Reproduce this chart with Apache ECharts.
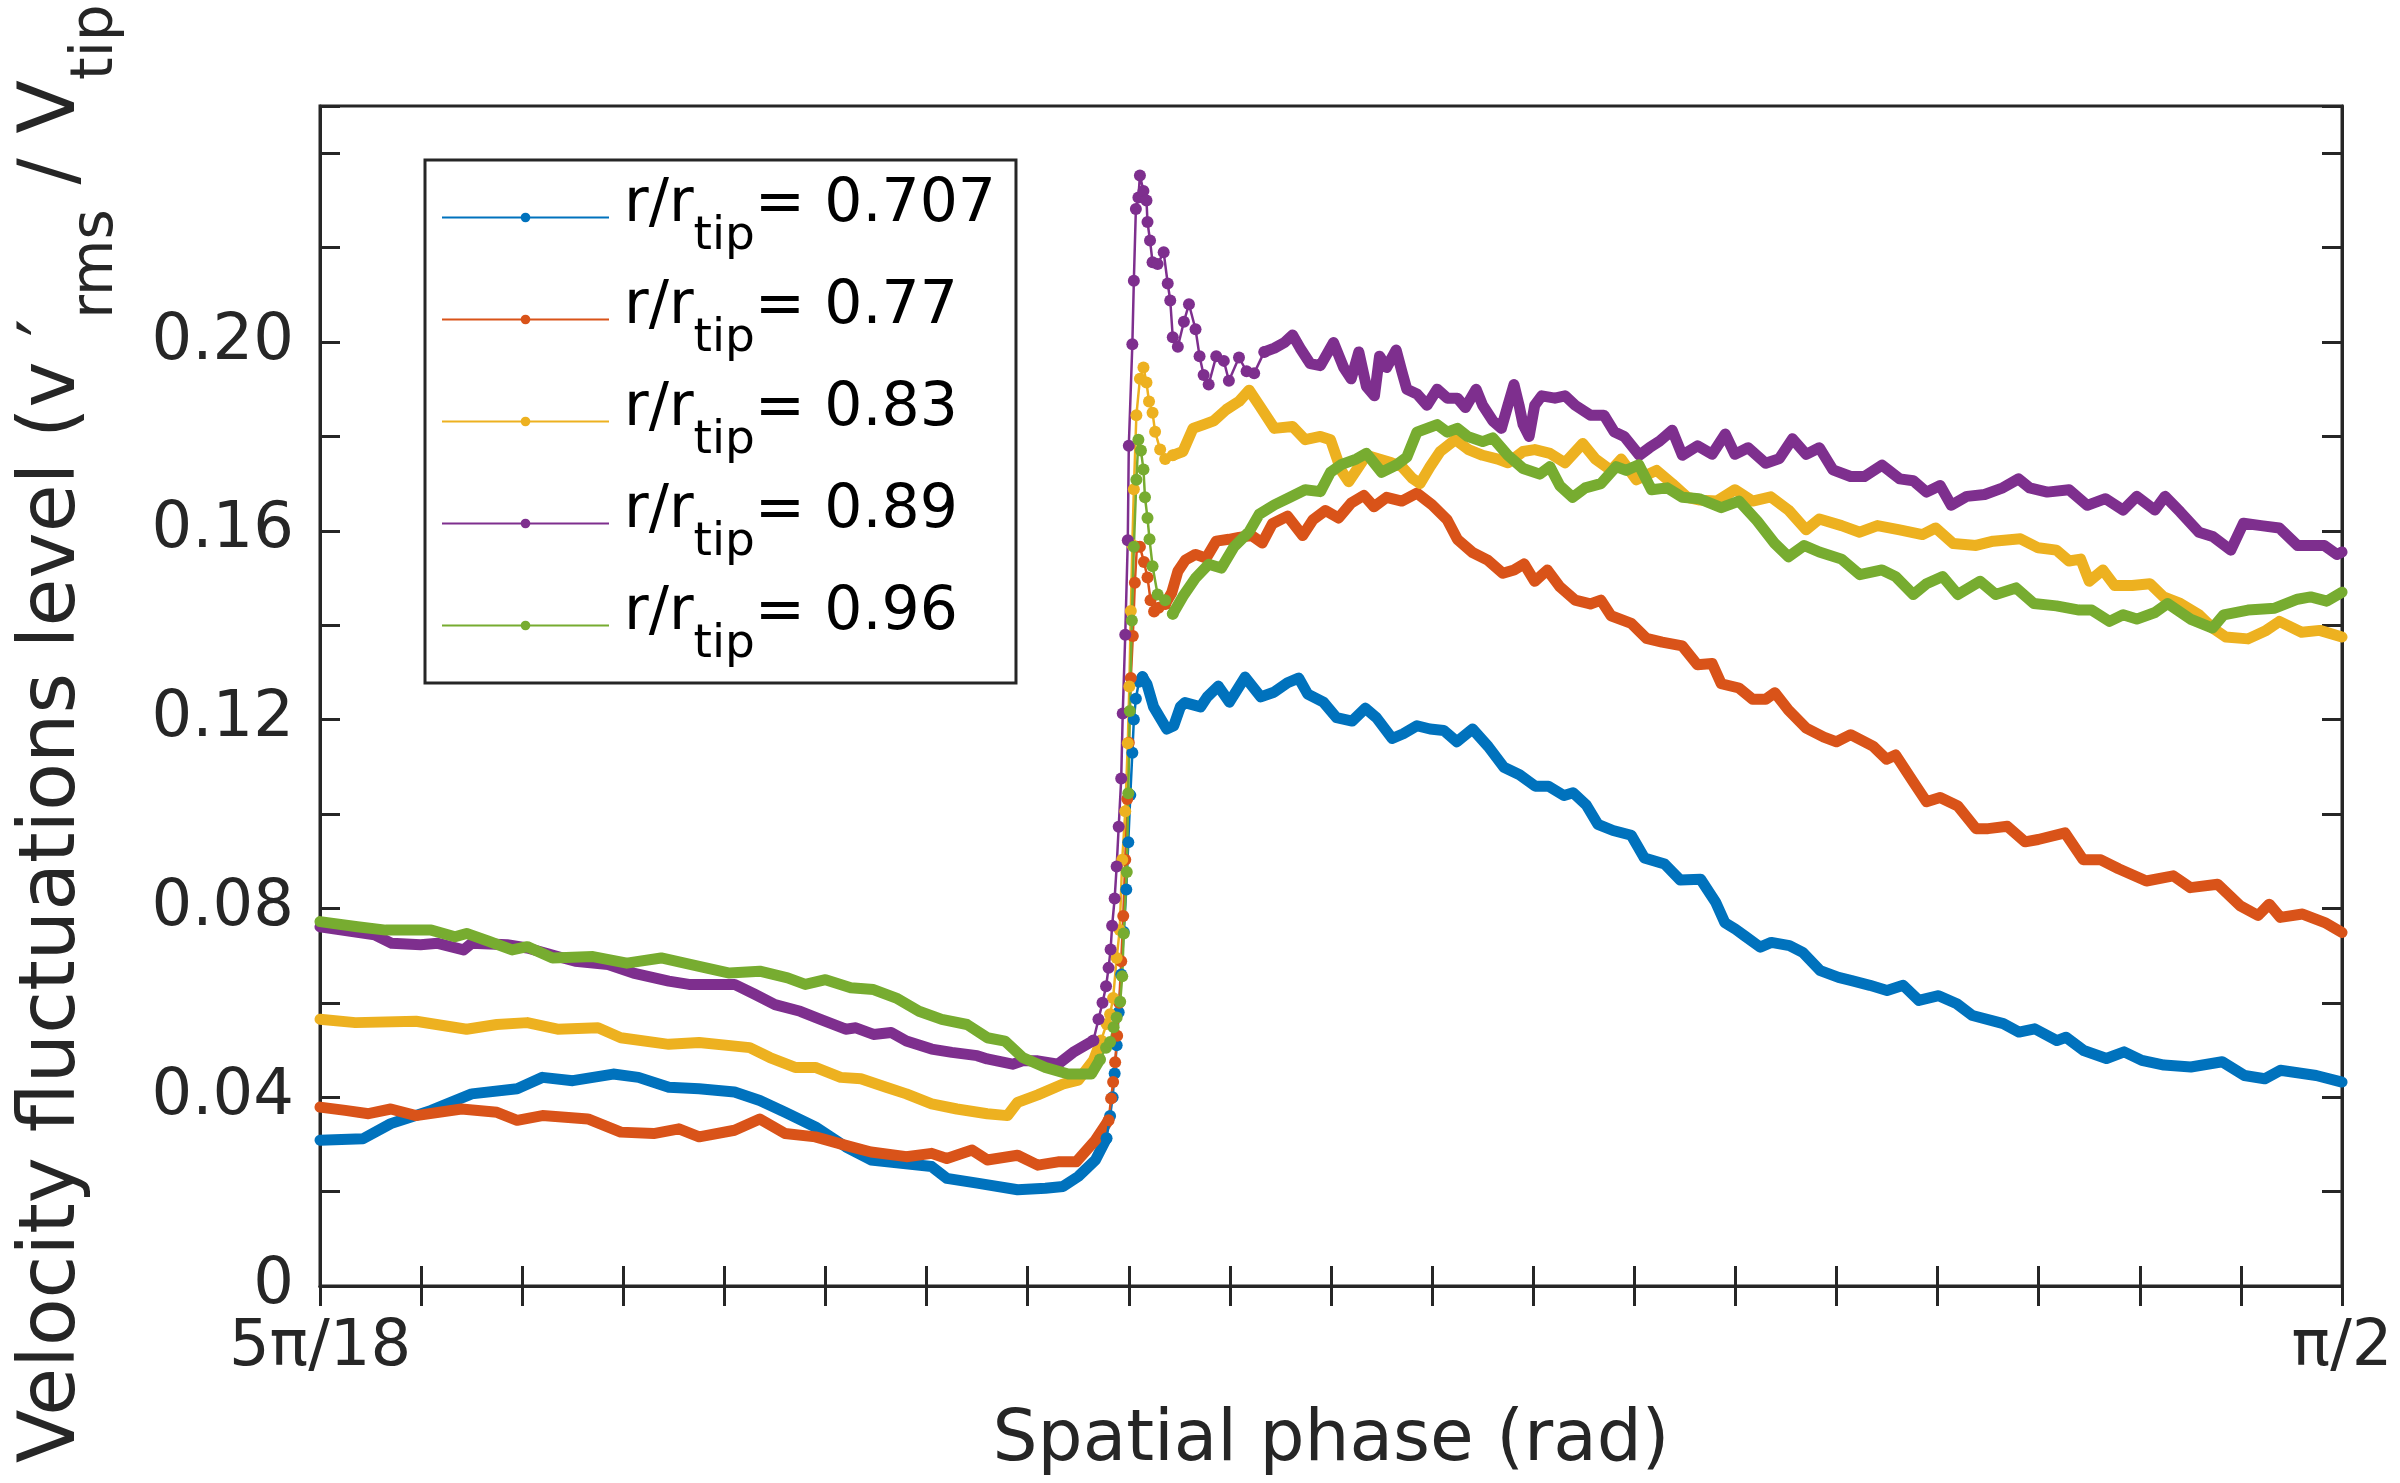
<!DOCTYPE html>
<html>
<head>
<meta charset="utf-8">
<script src="https://cdn.jsdelivr.net/npm/echarts@6/dist/echarts.min.js"></script>
<style>
  html, body { margin: 0; padding: 0; background: #fff; }
  #chart { width: 2400px; height: 1483px; }
</style>
</head>
<body>
<div id="chart"></div>
<script>
// spatial phase in degrees (50 = 5pi/18, 90 = pi/2), value = v'rms / Vtip
var r0707 = [[50.0,0.0309],[50.85,0.0312],[51.4,0.0344],[52.2,0.0372],[53.0,0.0407],[53.9,0.0418],[54.4,0.0442],[55.0,0.0435],[55.8,0.0449],[56.3,0.0442],[56.9,0.0421],[57.5,0.0418],[58.2,0.0411],[58.7,0.0393],[59.2,0.0368],[59.8,0.0337],[60.4,0.0295],[60.9,0.0267],[61.5,0.026],[62.1,0.0253],[62.4,0.0228],[63.0,0.0218],[63.8,0.0204],[64.35,0.0207],[64.7,0.0211],[65.0,0.0232],[65.34,0.0267],[65.56,0.0313],
  [65.63,0.036],[65.68,0.04],[65.72,0.045],[65.76,0.051],[65.8,0.058],[65.85,0.066],[65.9,0.075],[65.95,0.084],[65.99,0.094],[66.03,0.104],[66.07,0.113],[66.1,0.12],[66.14,0.1244],[66.2,0.128],[66.27,0.129],
  [66.36,0.1275],[66.49,0.1227],[66.75,0.118],[66.89,0.1187],[67.02,0.1227],[67.11,0.1236],[67.42,0.1227],[67.55,0.1248],[67.77,0.1271],[67.99,0.1237],[68.3,0.129],[68.61,0.1248],[68.87,0.1258],[69.14,0.1278],[69.36,0.1288],[69.54,0.1254],[69.85,0.1237],[70.11,0.1204],[70.42,0.1197],[70.68,0.1224],[70.9,0.1204],[71.21,0.116],[71.43,0.117],[71.7,0.1187],[71.96,0.118],[72.23,0.1177],[72.49,0.1153],[72.8,0.118],[73.11,0.1143],[73.42,0.1099],[73.73,0.1083],[74.04,0.1059],[74.3,0.1059],[74.61,0.1039],[74.79,0.1045],[75.05,0.1019],[75.28,0.0978],[75.58,0.0965],[75.94,0.0955],[76.2,0.0907],[76.6,0.0894],[76.91,0.086],[77.31,0.0862],[77.61,0.0813],[77.79,0.077],[78.0,0.0756],[78.18,0.0742],[78.49,0.0718],[78.71,0.0728],[79.07,0.0721],[79.33,0.0707],[79.68,0.0668],[80.04,0.0654],[80.3,0.0647],[80.66,0.0637],[81.0,0.0626],[81.32,0.0637],[81.63,0.0605],[82.02,0.0615],[82.38,0.0598],[82.69,0.0573],[83.3,0.0556],[83.61,0.0538],[83.92,0.0545],[84.36,0.052],[84.54,0.0527],[84.89,0.0499],[85.34,0.0482],[85.69,0.0496],[86.04,0.0478],[86.48,0.0468],[87.01,0.0464],[87.63,0.0475],[88.07,0.0446],[88.47,0.0439],[88.78,0.0457],[89.49,0.0446],[90.0,0.0432]];

var r077 = [[50.0,0.0379],[50.5,0.0372],[50.96,0.0365],[51.4,0.0375],[51.9,0.0361],[52.8,0.0375],[53.5,0.0368],[53.9,0.0351],[54.4,0.0361],[55.3,0.0354],[55.95,0.0326],[56.6,0.0323],[57.1,0.0333],[57.5,0.0316],[58.2,0.033],[58.7,0.0354],[59.2,0.0323],[59.8,0.0316],[60.4,0.0298],[60.9,0.0284],[61.6,0.0274],[62.1,0.0281],[62.4,0.027],[62.9,0.0288],[63.2,0.0267],[63.8,0.0277],[64.2,0.0256],[64.6,0.0263],[64.96,0.0263],[65.34,0.0309],[65.6,0.0351],
  [65.65,0.0397],[65.69,0.0432],[65.73,0.0474],[65.77,0.053],[65.81,0.06],[65.85,0.0688],[65.89,0.0784],[65.93,0.0903],[65.97,0.1032],[66.0,0.1151],[66.04,0.1288],[66.08,0.1377],[66.12,0.149],[66.16,0.1566],[66.22,0.1566],[66.3,0.1534],[66.37,0.1501],[66.43,0.1453],[66.5,0.1429],[66.59,0.1437],[66.72,0.1445],
  [66.85,0.1469],[66.97,0.1514],[67.12,0.1538],[67.32,0.155],[67.53,0.1542],[67.73,0.1578],[67.98,0.1582],[68.18,0.1586],[68.43,0.159],[68.64,0.1574],[68.84,0.1615],[69.14,0.1631],[69.44,0.159],[69.64,0.1623],[69.89,0.1643],[70.15,0.1627],[70.4,0.1659],[70.65,0.1675],[70.85,0.1651],[71.1,0.1671],[71.4,0.1663],[71.7,0.168],[72.0,0.1655],[72.3,0.1623],[72.5,0.1582],[72.8,0.1554],[73.1,0.1538],[73.4,0.151],[73.62,0.1517],[73.82,0.153],[74.03,0.1493],[74.28,0.1517],[74.53,0.1481],[74.83,0.1453],[75.13,0.1445],[75.34,0.1453],[75.54,0.142],[75.94,0.1404],[76.24,0.1372],[76.55,0.1364],[76.95,0.1356],[77.25,0.1316],[77.54,0.1319],[77.72,0.1276],[78.07,0.1267],[78.34,0.1243],[78.6,0.1243],[78.78,0.1257],[79.05,0.122],[79.4,0.1182],[79.75,0.1163],[80.0,0.1153],[80.28,0.1168],[80.72,0.1144],[80.99,0.1116],[81.17,0.1125],[81.52,0.1068],[81.78,0.1026],[82.05,0.1035],[82.4,0.1017],[82.76,0.0969],[83.0,0.0969],[83.38,0.0974],[83.73,0.0941],[83.99,0.0946],[84.52,0.096],[84.88,0.0903],[85.23,0.0903],[85.58,0.0884],[86.13,0.0858],[86.66,0.0869],[87.0,0.0844],[87.54,0.0851],[87.98,0.0806],[88.34,0.0785],[88.56,0.0809],[88.78,0.0781],[89.22,0.0788],[89.66,0.077],[90.0,0.0749]];

var r083 = [[50.0,0.0565],[50.7,0.0558],[51.9,0.0561],[52.9,0.0544],[53.5,0.0554],[54.1,0.0558],[54.7,0.0544],[55.5,0.0547],[55.95,0.0526],[56.9,0.0512],[57.5,0.0516],[58.5,0.0505],[58.9,0.0484],[59.4,0.0463],[59.8,0.0463],[60.3,0.0442],[60.7,0.0439],[61.2,0.0421],[61.6,0.0407],[62.1,0.0386],[62.6,0.0375],[63.2,0.0365],[63.6,0.0361],[63.8,0.0389],[64.2,0.0405],[64.7,0.0428],[65.0,0.0436],[65.3,0.0478],[65.45,0.052],
  [65.56,0.0555],[65.63,0.0576],[65.69,0.061],[65.76,0.0695],[65.82,0.0754],[65.87,0.0903],[65.93,0.1006],[65.98,0.115],[66.01,0.127],[66.04,0.143],[66.07,0.157],[66.1,0.1688],[66.15,0.1845],[66.22,0.1922],[66.29,0.1946],[66.35,0.1914],[66.4,0.1874],[66.47,0.185],[66.52,0.181],[66.62,0.1772],[66.72,0.1752],[66.87,0.176],
  [67.07,0.1768],[67.27,0.1817],[67.48,0.1825],[67.68,0.1833],[67.93,0.1857],[68.18,0.1874],[68.38,0.1898],[68.58,0.1866],[68.88,0.1817],[69.24,0.1821],[69.49,0.1793],[69.79,0.18],[69.99,0.1793],[70.2,0.1728],[70.35,0.1704],[70.5,0.1728],[70.7,0.176],[70.95,0.1752],[71.2,0.1744],[71.4,0.1736],[71.6,0.1712],[71.76,0.17],[71.96,0.1736],[72.16,0.1768],[72.46,0.1793],[72.72,0.1772],[73.0,0.176],[73.3,0.1752],[73.5,0.1744],[73.8,0.1768],[74.03,0.1772],[74.33,0.1764],[74.63,0.1744],[74.98,0.1785],[75.23,0.1752],[75.54,0.1728],[75.74,0.1752],[76.04,0.1708],[76.44,0.1728],[76.75,0.17],[77.05,0.1671],[77.3,0.1665],[77.63,0.1663],[77.99,0.1687],[78.34,0.1663],[78.7,0.1672],[79.05,0.1644],[79.4,0.1602],[79.66,0.1625],[80.1,0.1611],[80.46,0.1597],[80.81,0.1611],[81.25,0.1602],[81.7,0.1592],[81.96,0.1606],[82.31,0.1573],[82.76,0.1569],[83.1,0.1578],[83.64,0.1583],[83.99,0.1564],[84.35,0.1559],[84.6,0.1536],[84.83,0.154],[85.0,0.1493],[85.27,0.1517],[85.5,0.1484],[85.85,0.1484],[86.2,0.1488],[86.47,0.146],[86.8,0.1446],[87.17,0.1422],[87.44,0.1394],[87.7,0.1375],[88.14,0.1371],[88.5,0.1389],[88.76,0.1408],[89.2,0.1385],[89.56,0.1389],[90.0,0.1375]];

var r089 = [[50.0,0.0761],[51.08,0.0744],[51.42,0.0726],[51.99,0.0723],[52.33,0.0726],[52.84,0.0712],[53.0,0.0726],[53.7,0.0723],[54.1,0.0716],[54.7,0.0698],[55.05,0.0688],[55.7,0.0681],[56.2,0.0663],[56.9,0.0646],[57.3,0.0639],[58.2,0.0639],[58.6,0.0618],[59.0,0.0596],[59.5,0.0582],[59.9,0.0565],[60.4,0.0544],[60.6,0.0547],[60.95,0.0533],[61.3,0.0537],[61.6,0.0519],[62.1,0.0502],[62.5,0.0495],[63.0,0.0488],[63.2,0.0481],[63.7,0.047],[63.9,0.0477],[64.2,0.0477],[64.6,0.047],[64.9,0.0495],[65.3,0.052],
  [65.4,0.0565],[65.48,0.06],[65.55,0.0635],[65.6,0.0674],[65.64,0.0713],[65.67,0.0763],[65.72,0.0821],[65.76,0.0889],[65.8,0.0973],[65.85,0.1075],[65.88,0.1213],[65.93,0.138],[65.98,0.158],[66.0,0.178],[66.07,0.1995],[66.1,0.213],[66.14,0.2282],[66.19,0.2306],[66.22,0.2353],[66.29,0.232],[66.35,0.23],[66.37,0.2254],[66.42,0.2215],[66.47,0.2169],[66.57,0.2165],[66.69,0.219],[66.77,0.2124],[66.82,0.2088],[66.87,0.201],[66.97,0.199],[67.09,0.2043],[67.19,0.208],[67.32,0.2027],[67.4,0.197],[67.48,0.193],[67.58,0.191],[67.73,0.197],[67.88,0.196],[67.98,0.1918],[68.18,0.1967],[68.33,0.1938],[68.48,0.1934],[68.68,0.1979],
  [68.88,0.1987],[69.08,0.1999],[69.24,0.2015],[69.39,0.1987],[69.59,0.1954],[69.79,0.195],[70.05,0.1999],[70.25,0.1946],[70.4,0.1922],[70.55,0.1979],[70.7,0.1906],[70.86,0.1886],[70.96,0.197],[71.1,0.1946],[71.29,0.1983],[71.4,0.1938],[71.5,0.19],[71.7,0.189],[71.9,0.1866],[72.1,0.19],[72.3,0.1881],[72.5,0.1881],[72.66,0.1861],[72.87,0.19],[73.0,0.1866],[73.2,0.1833],[73.37,0.1817],[73.5,0.1866],[73.62,0.191],[73.72,0.1866],[73.8,0.1825],[73.92,0.18],[74.03,0.1866],[74.17,0.1886],[74.43,0.1881],[74.63,0.1886],[74.83,0.1866],[75.13,0.1845],[75.4,0.1845],[75.6,0.181],[75.8,0.18],[76.1,0.176],[76.3,0.1776],[76.5,0.179],[76.75,0.1813],[76.95,0.176],[77.25,0.178],[77.54,0.1762],[77.8,0.1805],[77.99,0.1762],[78.25,0.1776],[78.6,0.1743],[78.87,0.1753],[79.13,0.1795],[79.4,0.1762],[79.66,0.1776],[79.93,0.1729],[80.28,0.1715],[80.55,0.1715],[80.9,0.1739],[81.25,0.171],[81.52,0.1706],[81.78,0.1682],[82.05,0.1696],[82.27,0.1654],[82.58,0.1673],[82.93,0.1677],[83.29,0.1691],[83.6,0.171],[83.82,0.1691],[84.17,0.1682],[84.6,0.1687],[84.96,0.1654],[85.32,0.1668],[85.67,0.1644],[85.94,0.1673],[86.3,0.1644],[86.5,0.1673],[86.8,0.164],[87.17,0.1597],[87.44,0.1588],[87.8,0.1559],[88.05,0.1616],[88.4,0.1611],[88.76,0.1606],[89.12,0.1569],[89.38,0.1569],[89.65,0.1569],[89.9,0.155],[90.0,0.1555]];

var r096 = [[50.0,0.0772],[50.74,0.0761],[51.3,0.0754],[52.2,0.0754],[52.67,0.074],[52.9,0.0747],[53.35,0.073],[53.8,0.0712],[54.1,0.0719],[54.6,0.0695],[55.4,0.0698],[56.07,0.0684],[56.75,0.0695],[57.5,0.0677],[58.1,0.0663],[58.7,0.0667],[59.25,0.0653],[59.6,0.0639],[60.0,0.0649],[60.5,0.0632],[60.95,0.0628],[61.4,0.061],[61.85,0.0582],[62.3,0.0565],[62.8,0.0554],[63.2,0.0526],[63.55,0.0519],[63.9,0.0484],[64.35,0.0463],[64.8,0.0449],[65.26,0.0449],[65.43,0.048],
  [65.55,0.0505],[65.63,0.0517],[65.7,0.0548],[65.76,0.0569],[65.83,0.0602],[65.87,0.0656],[65.9,0.0747],[65.96,0.0877],[65.99,0.1044],[66.02,0.1218],[66.06,0.141],[66.1,0.1566],[66.15,0.1708],[66.19,0.1793],[66.24,0.177],[66.29,0.173],[66.32,0.1671],[66.37,0.1627],[66.41,0.1582],[66.47,0.1525],[66.57,0.1465],[66.72,0.1453],[66.87,0.1424],
  [67.07,0.1461],[67.32,0.15],[67.58,0.1529],[67.83,0.1521],[68.08,0.1566],[68.38,0.1598],[68.58,0.1635],[68.88,0.1655],[69.19,0.1671],[69.49,0.1687],[69.79,0.1683],[69.99,0.1724],[70.2,0.174],[70.5,0.1752],[70.7,0.1764],[71.0,0.1724],[71.3,0.174],[71.5,0.1756],[71.7,0.1809],[72.1,0.1825],[72.3,0.1809],[72.5,0.1817],[72.7,0.18],[73.0,0.1789],[73.2,0.1797],[73.5,0.176],[73.8,0.1732],[74.13,0.172],[74.33,0.1736],[74.53,0.1695],[74.78,0.1671],[75.03,0.1691],[75.34,0.17],[75.64,0.1736],[75.84,0.1728],[76.09,0.174],[76.34,0.1687],[76.65,0.1691],[76.95,0.1671],[77.28,0.1668],[77.72,0.1649],[78.07,0.1663],[78.43,0.1621],[78.78,0.1573],[79.05,0.1545],[79.36,0.1569],[79.66,0.1555],[80.1,0.154],[80.46,0.1507],[80.9,0.1517],[81.17,0.1503],[81.52,0.1465],[81.78,0.1488],[82.1,0.1503],[82.4,0.1465],[82.84,0.1493],[83.15,0.1465],[83.55,0.1479],[83.9,0.1446],[84.35,0.1441],[84.8,0.1432],[85.05,0.1432],[85.4,0.1408],[85.67,0.1422],[85.94,0.1413],[86.3,0.1427],[86.55,0.1446],[87.0,0.1413],[87.44,0.1394],[87.66,0.1422],[88.14,0.1432],[88.67,0.1436],[89.12,0.1455],[89.38,0.146],[89.7,0.1451],[90.0,0.147]];

var names = ['r/r_tip= 0.707', 'r/r_tip= 0.77', 'r/r_tip= 0.83', 'r/r_tip= 0.89', 'r/r_tip= 0.96'];
var curves = [r0707, r077, r083, r089, r096];
var colors = ['#0072BD', '#D95319', '#EDB120', '#7E2F8E', '#77AC30'];
// phase range where the samples are spread out and markers show individually
var jumpWin = [[65.56, 66.27], [65.6, 66.72], [65.45, 66.87], [65.3, 68.68], [65.43, 66.87]];

var xLabelAt = [50, 90];
var xLabelText = ['5π/18', 'π/2'];
var yLabelAt = [0, 0.04, 0.08, 0.12, 0.16, 0.20];
var yLabelText = ['0', '0.04', '0.08', '0.12', '0.16', '0.20'];

var ink = '#262626';
var font = 'DejaVu Sans';

function part(d, lo, hi) {
  return d.filter(function (p) { return p[0] >= lo && p[0] <= hi; });
}
function pick(v, at, txt) {
  for (var k = 0; k < at.length; k++) {
    if (Math.abs(v - at[k]) < 1e-6) return txt[k];
  }
  return '';
}

var series = [];
// marker series first so the legend takes its icon from them
curves.forEach(function (d, i) {
  series.push({
    name: names[i], type: 'line', z: 4,
    data: part(d, jumpWin[i][0], jumpWin[i][1]),
    symbol: 'circle', symbolSize: 12, showAllSymbol: true,
    lineStyle: { width: 2.5, color: colors[i] },
    itemStyle: { color: colors[i] }
  });
});
curves.forEach(function (d, i) {
  [part(d, 0, jumpWin[i][0]), part(d, jumpWin[i][1], 100)].forEach(function (seg) {
    series.push({
      name: names[i], type: 'line', z: 3,
      data: seg, symbol: 'none',
      lineStyle: { width: 11, color: colors[i], cap: 'round', join: 'round' },
      itemStyle: { color: colors[i] }
    });
  });
});

var tickStyle = { show: true, inside: true, length: 20, lineStyle: { color: ink, width: 3 } };
var lineStyle = { show: true, lineStyle: { color: ink, width: 3 } };

var chart = echarts.init(document.getElementById('chart'));
chart.setOption({
  animation: false,
  backgroundColor: '#fff',
  textStyle: { fontFamily: font },
  grid: {
    left: 320, right: 58, top: 106, bottom: 197,
    outerBoundsMode: 'none', containLabel: false,
    show: true, borderColor: ink, borderWidth: 3
  },
  legend: {
    data: names, orient: 'vertical', left: 425, top: 160,
    itemWidth: 167, itemHeight: 12, itemGap: 17,
    padding: [15, 20, 15, 16],
    borderColor: ink, borderWidth: 3, backgroundColor: '#fff',
    selectedMode: false,
    formatter: function (n) {
      return '{g| }{m|r/r}{s|tip}{m|= ' + n.split('= ')[1] + '}';
    },
    textStyle: {
      rich: {
        g: { width: 10, fontSize: 1, lineHeight: 85 },
        m: { fontSize: 60, lineHeight: 60, verticalAlign: 'top', color: '#000', fontFamily: font },
        s: { fontSize: 47, lineHeight: 46, verticalAlign: 'bottom', color: '#000', fontFamily: font }
      }
    }
  },
  xAxis: [{
    type: 'value', min: 50, max: 90, interval: 2,
    axisLine: lineStyle, axisTick: tickStyle, splitLine: { show: false },
    axisLabel: {
      fontSize: 64, color: ink, margin: 30, showMinLabel: true, showMaxLabel: true,
      formatter: function (v) { return pick(v, xLabelAt, xLabelText); }
    },
    name: 'Spatial phase (rad)', nameLocation: 'middle', nameGap: 120,
    nameTextStyle: { fontSize: 71, color: ink }
  }, {
    type: 'value', position: 'top', min: 50, max: 90, interval: 2,
    axisLine: lineStyle, axisTick: tickStyle, axisLabel: { show: false }, splitLine: { show: false }
  }],
  yAxis: [{
    type: 'value', min: 0, max: 0.25, interval: 0.02,
    axisLine: lineStyle, axisTick: tickStyle, splitLine: { show: false },
    axisLabel: {
      fontSize: 64, color: ink, margin: 26,
      formatter: function (v) { return pick(v, yLabelAt, yLabelText); }
    },
    name: '{g| }{m|Velocity fluctuations level (v ′}{s|rms}{m| / V}{s|tip}{m|)}{e| }',
    nameLocation: 'middle', nameGap: 194,
    nameTextStyle: {
      rich: {
        g: { width: 1, fontSize: 1, lineHeight: 111 },
        e: { width: 46, fontSize: 1 },
        m: { fontSize: 78, lineHeight: 78, verticalAlign: 'top', color: ink, fontFamily: font },
        s: { fontSize: 58, lineHeight: 58, verticalAlign: 'bottom', color: ink, fontFamily: font }
      }
    }
  }, {
    type: 'value', position: 'right', min: 0, max: 0.25, interval: 0.02,
    axisLine: lineStyle, axisTick: tickStyle, axisLabel: { show: false }, splitLine: { show: false }
  }],
  series: series
});
</script>
</body>
</html>
